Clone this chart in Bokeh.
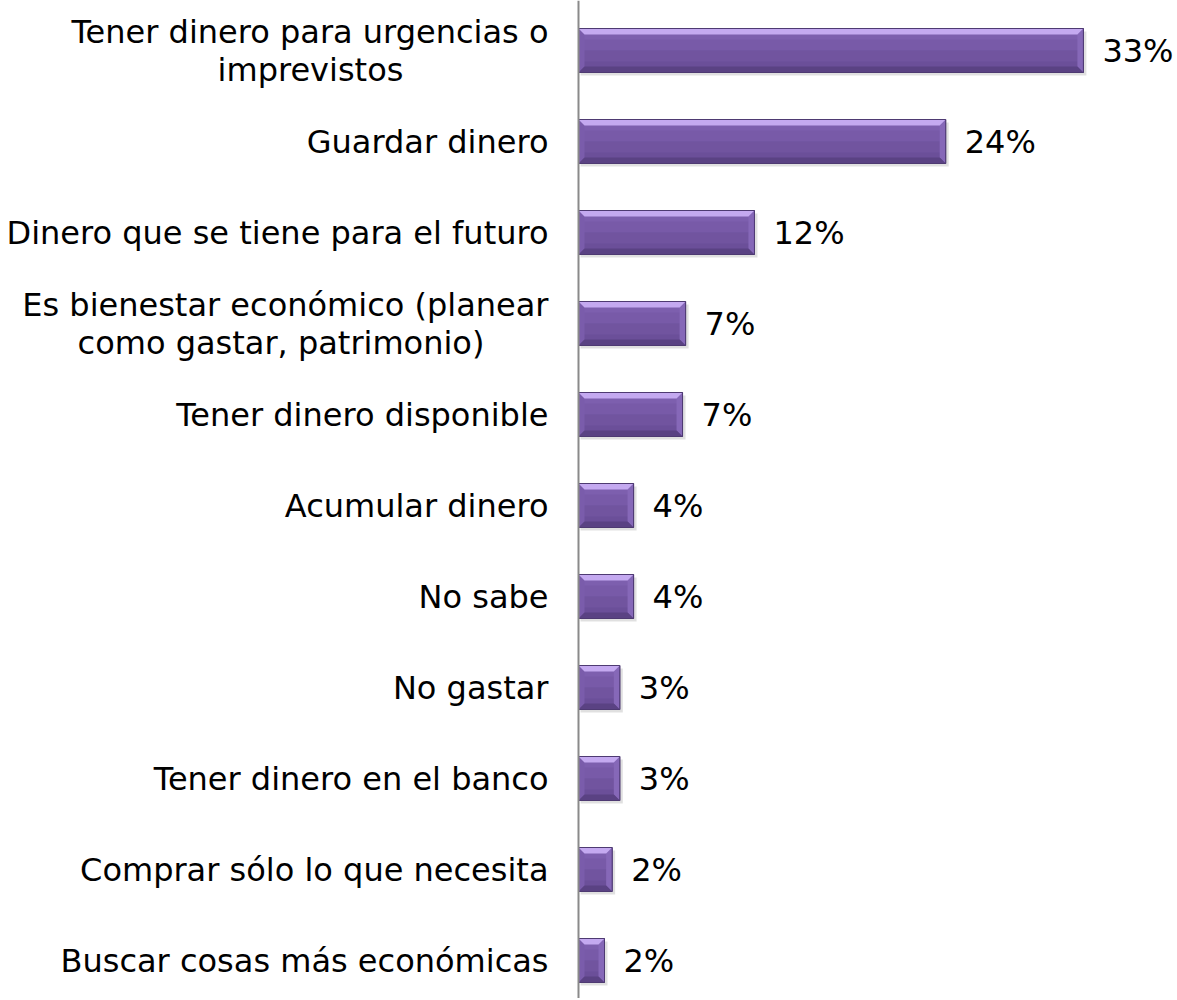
from bokeh.plotting import figure
from bokeh.models import Range1d, Span, ColumnDataSource
from bokeh.core.properties import value
from bokeh.embed import file_html
from bokeh.resources import INLINE

# ---- data ----
categories = [
    "Tener dinero para urgencias o\nimprevistos",
    "Guardar dinero",
    "Dinero que se tiene para el futuro",
    "Es bienestar económico (planear\ncomo gastar, patrimonio)",
    "Tener dinero disponible",
    "Acumular dinero",
    "No sabe",
    "No gastar",
    "Tener dinero en el banco",
    "Comprar sólo lo que necesita",
    "Buscar cosas más económicas",
]
values = [33.0, 24.0, 11.5, 7.0, 6.8, 3.6, 3.6, 2.7, 2.7, 2.2, 1.7]
value_labels = ["33%", "24%", "12%", "7%", "7%", "4%", "4%", "3%", "3%", "2%", "2%"]

# ---- layout ----
W, H = 1175, 998
AXIS_PX = 578          # pixel position of the zero line
PX_PER_UNIT = 15.3     # pixels per percent
ROW0_PX = 50           # pixel of first row centre
ROW_PX = 91            # row spacing
FONT = "DejaVu Sans"
FS = "32px"

x0 = -AXIS_PX / PX_PER_UNIT
x1 = (W - AXIS_PX) / PX_PER_UNIT
y_top = -ROW0_PX / ROW_PX
y_bot = (H - ROW0_PX) / ROW_PX

p = figure(width=W, height=H, output_backend="svg", toolbar_location=None,
           x_range=Range1d(x0, x1), y_range=Range1d(y_bot, y_top),
           min_border=0, outline_line_color=None)
p.axis.visible = False
p.grid.visible = False
p.background_fill_color = "white"
p.border_fill_color = "white"

n = len(values)
ys = list(range(n))
h = 44 / ROW_PX
dy = 6 / ROW_PX
dx = 6 / PX_PER_UNIT

# shadow
p.hbar(y=[y + 3 / ROW_PX for y in ys], left=[2 / PX_PER_UNIT] * n,
       right=[v + 3 / PX_PER_UNIT for v in values], height=h,
       fill_color="#000000", fill_alpha=0.12, line_color=None)
# base body
p.hbar(y=ys, left=0, right=values, height=h, fill_color="#6b4f99",
       line_color="#4e3a72", line_width=1)
# upper body (lighter gradient steps)
p.hbar(y=[y - h / 4 for y in ys], left=0, right=values, height=h / 2,
       fill_color="#7d5fae", line_color=None)
p.hbar(y=[y - h / 8 for y in ys], left=0, right=values, height=h / 4,
       fill_color="#785aa8", line_color=None)
p.hbar(y=[y + h / 8 for y in ys], left=0, right=values, height=h / 4,
       fill_color="#71549f", line_color=None)

# bevels
top_x, top_y, bot_x, bot_y, lft_x, lft_y, rgt_x, rgt_y = [], [], [], [], [], [], [], []
for y, v in zip(ys, values):
    t, b = y - h / 2, y + h / 2
    ddx = min(dx, v / 2)
    top_x.append([0, v, v - ddx, ddx]); top_y.append([t, t, t + dy, t + dy])
    bot_x.append([0, v, v - ddx, ddx]); bot_y.append([b, b, b - dy, b - dy])
    lft_x.append([0, ddx, ddx, 0]); lft_y.append([t, t + dy, b - dy, b])
    rgt_x.append([v, v - ddx, v - ddx, v]); rgt_y.append([t, t + dy, b - dy, b])
p.patches(lft_x, lft_y, fill_color="#7a5cab", line_color=None)
p.patches(rgt_x, rgt_y, fill_color="#8668b8", line_color=None)
p.patches(bot_x, bot_y, fill_color="#5a4283", line_color=None)
p.patches(top_x, top_y, fill_color="#c4a9f0", line_color=None)
# outline again
p.hbar(y=ys, left=0, right=values, height=h, fill_color=None,
       line_color="#4e3a72", line_width=1)

# axis line
p.add_layout(Span(location=0, dimension="height", line_color="#8a8a8a", line_width=2))

# category labels
LABEL_GAP = 30 / PX_PER_UNIT
line1_width_px = {0: 476, 3: 535}
single = dict(x=[], y=[], t=[])
first = dict(x=[], y=[], t=[])
second = dict(x=[], y=[], t=[])
for i, c in enumerate(categories):
    parts = c.split("\n")
    if len(parts) == 1:
        single["x"].append(-LABEL_GAP); single["y"].append(i); single["t"].append(c)
    else:
        first["x"].append(-LABEL_GAP); first["y"].append(i - 19 / ROW_PX); first["t"].append(parts[0])
        cx = -LABEL_GAP - line1_width_px[i] / 2 / PX_PER_UNIT
        second["x"].append(cx); second["y"].append(i + 19 / ROW_PX); second["t"].append(parts[1])

for src, align in ((single, "right"), (first, "right"), (second, "center")):
    p.text(x="x", y="y", text="t", source=ColumnDataSource(src), text_align=align,
           text_baseline="middle", text_font=value(FONT), text_font_size=FS,
           text_color="#000000")

# value labels
p.text(x=[v + 19 / PX_PER_UNIT for v in values], y=ys, text=value_labels,
       text_align="left", text_baseline="middle", text_font=value(FONT),
       text_font_size=FS, text_color="#000000")

open("out.html", "w").write(file_html(p, INLINE))
